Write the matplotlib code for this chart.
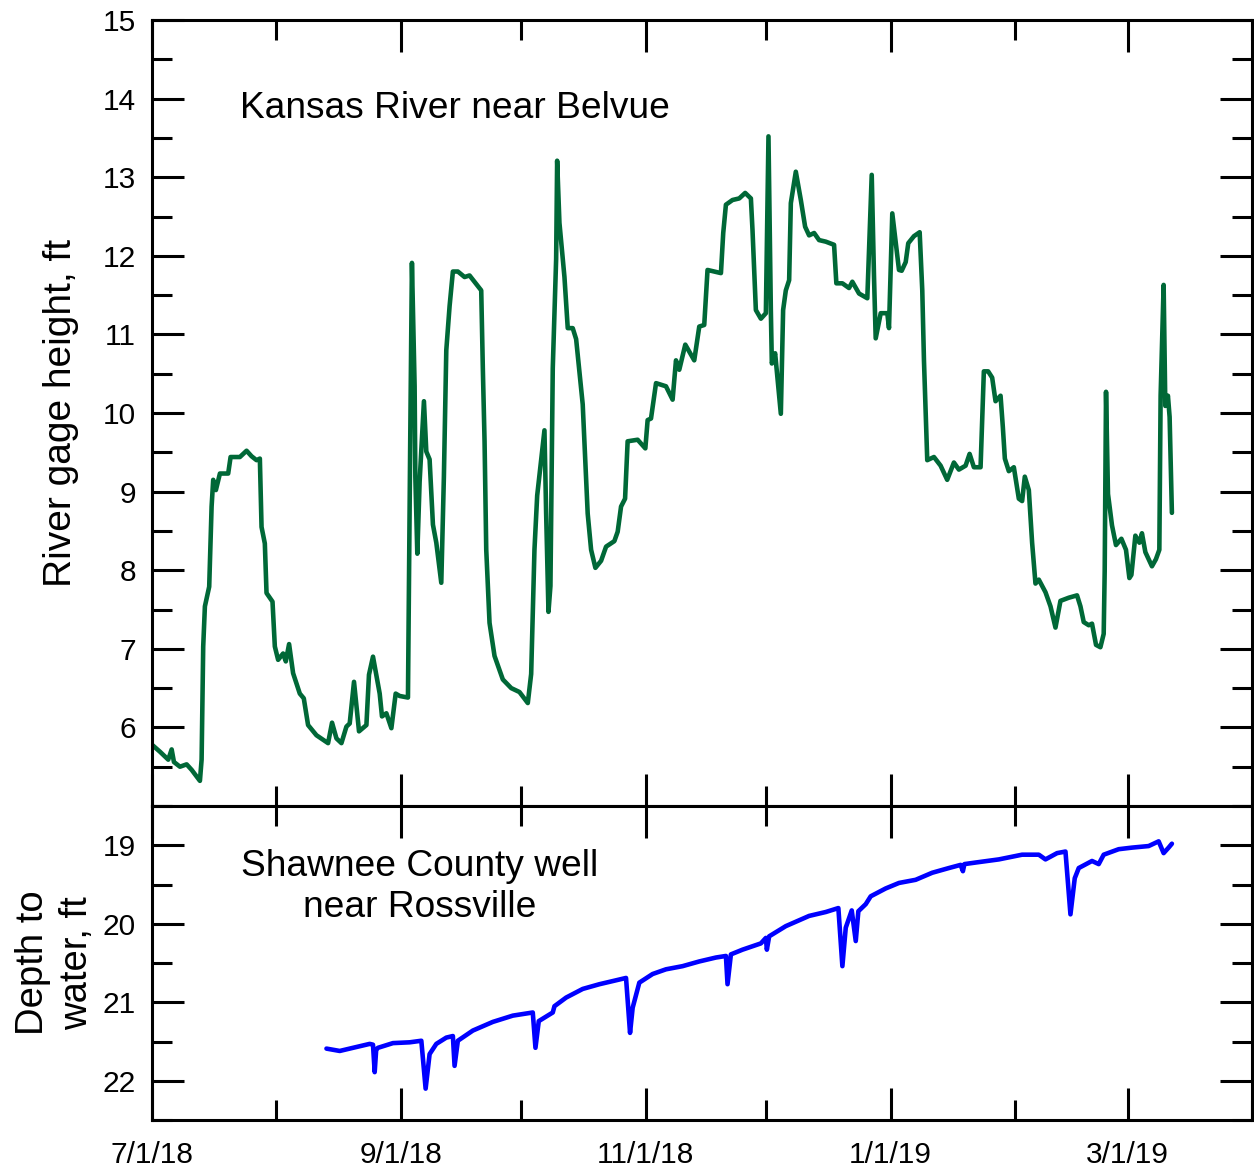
import matplotlib
matplotlib.use("Agg")
import matplotlib.pyplot as plt
import matplotlib.dates as mdates
from matplotlib.ticker import MultipleLocator, FuncFormatter
import pandas as pd

plt.rcParams['font.family'] = ['Liberation Sans', 'DejaVu Sans']

# Kansas River near Belvue, gage height (ft); day = days after 7/1/18
river_day = [0, 2.0, 4.05, 4.9, 5.47, 6.97, 8.63, 9.88, 11.94, 12.36, 12.76, 13.18,
             14.25, 14.85, 15.25, 15.92, 16.92, 18.98, 19.58, 21.89, 23.56, 24.8,
             26.04, 26.87, 27.29, 28.11, 28.53, 30.02, 30.6, 31.42, 32.66, 33.33,
             34.15, 35.15, 36.82, 37.81, 38.88, 40.97, 43.86, 44.85, 45.95, 47.19,
             48.43, 49.25, 50.32, 51.57, 53.41, 54.05, 55.05, 56.72, 57.29, 58.38,
             59.63, 60.7, 61.69, 63.76, 64.3, 64.75, 65.42, 65.6, 66.09, 66.67,
             67.74, 68.33, 69.15, 69.98, 70.82, 72.06, 72.71, 73.31, 74.13, 74.95,
             76.19, 77.86, 79.1, 80.77, 82.01, 82.41, 82.84, 83.26, 84.08, 85.32,
             87.39, 89.48, 91.54, 93.61, 94.45, 95.27, 95.95, 96.94, 97.76, 98.18,
             98.76, 99.25, 99.83, 100.67, 100.92, 101.49, 102.74, 103.56, 104.8,
             105.65, 107.29, 108.53, 109.38, 110.45, 111.87, 113.11, 115.17, 116.0,
             116.84, 117.84, 118.48, 120.97, 122.89, 123.46, 124.3, 125.55, 128.03,
             129.68, 130.52, 131.34, 132.84, 135.07, 136.32, 137.56, 138.38, 141.72,
             142.29, 142.96, 144.6, 146.27, 147.76, 149.18, 149.58, 150.42, 151.67,
             152.91, 153.56, 154.15, 154.4, 155.22, 156.64, 157.21, 157.88, 158.71,
             159.13, 160.37, 161.62, 162.69, 163.68, 164.93, 166.17, 167.84, 169.9,
             170.47, 171.97, 173.63, 174.45, 176.12, 178.18, 179.28, 179.85, 180.27,
             181.52, 183.16, 183.58, 184.4, 186.07, 186.74, 187.74, 188.38, 189.8,
             191.22, 191.87, 192.29, 193.11, 194.78, 196.44, 198.08, 199.75, 200.99,
             202.66, 203.66, 204.73, 206.39, 207.21, 208.28, 209.28, 210.12, 211.37,
             211.94, 212.44, 213.43, 214.68, 215.92, 216.74, 217.41, 218.41, 219.23,
             220.07, 220.9, 222.56, 223.81, 225.05, 226.29, 228.36, 230.42, 231.27,
             232.09, 233.33, 234.15, 235.15, 236.24, 237.06, 237.31, 237.64, 238.13,
             239.13, 240.12, 241.47, 242.61, 243.46, 243.96, 244.95, 245.95, 246.59,
             247.44, 249.08, 250.07, 250.92, 251.24, 251.99, 252.41, 253.06, 253.48,
             254.05]
river_ft = [5.78, 5.69, 5.59, 5.72, 5.56, 5.5, 5.53, 5.46, 5.32, 5.59, 7.03, 7.54,
            7.79, 8.81, 9.15, 9.02, 9.23, 9.23, 9.44, 9.44, 9.52, 9.45,
            9.4, 9.42, 8.55, 8.34, 7.71, 7.6, 7.03, 6.86, 6.94, 6.84,
            7.06, 6.69, 6.43, 6.37, 6.03, 5.9, 5.8, 6.06, 5.86, 5.8,
            6.01, 6.05, 6.58, 5.95, 6.03, 6.67, 6.9, 6.43, 6.14, 6.18,
            5.99, 6.43, 6.4, 6.38, 9.51, 11.91, 10.34, 9.19, 8.21, 9.13,
            10.15, 9.51, 9.41, 8.58, 8.35, 7.84, 9.19, 10.8, 11.36, 11.8,
            11.8, 11.73, 11.75, 11.64, 11.56, 10.57, 9.64, 8.26, 7.33, 6.91,
            6.61, 6.5, 6.45, 6.31, 6.68, 8.26, 8.95, 9.41, 9.78, 8.72,
            7.47, 7.8, 10.57, 11.96, 13.21, 12.42, 11.73, 11.08, 11.08,
            10.94, 10.11, 8.72, 8.26, 8.03, 8.12, 8.3, 8.37, 8.49,
            8.81, 8.91, 9.64, 9.66, 9.55, 9.91, 9.93, 10.38, 10.34,
            10.17, 10.67, 10.55, 10.87, 10.67, 11.1, 11.12, 11.82, 11.78,
            12.29, 12.65, 12.71, 12.73, 12.8, 12.73, 12.33, 11.31, 11.2,
            11.27, 13.52, 11.31, 10.63, 10.76, 9.99, 11.31, 11.56, 11.69,
            12.67, 13.07, 12.71, 12.37, 12.26, 12.29, 12.2, 12.18, 12.14,
            11.65, 11.65, 11.59, 11.67, 11.52, 11.46, 13.03, 11.73, 10.95,
            11.27, 11.27, 11.08, 12.54, 11.82, 11.81, 11.92, 12.16, 12.25,
            12.3, 11.56, 10.67, 9.4, 9.44, 9.33, 9.15, 9.37, 9.28,
            9.33, 9.48, 9.31, 9.31, 10.53, 10.53, 10.45, 10.15, 10.22,
            9.82, 9.42, 9.26, 9.31, 8.91, 8.88, 9.19, 9.02, 8.35,
            7.83, 7.88, 7.72, 7.54, 7.27, 7.61, 7.65, 7.68, 7.54,
            7.34, 7.3, 7.32, 7.05, 7.02, 7.19, 7.99, 10.27, 8.97,
            8.57, 8.32, 8.4, 8.26, 7.9, 7.94, 8.44, 8.35, 8.47,
            8.23, 8.05, 8.14, 8.26, 10.22, 11.63, 10.09, 10.22, 9.95,
            8.73]

# Shawnee County well near Rossville, depth to water (ft)
well_day = [43.46, 46.77, 50.07, 54.23, 55.05, 55.47, 55.85, 56.29, 60.02, 64.18,
            67.09, 68.16, 69.15, 70.82, 73.31, 74.95, 75.37, 76.19, 79.93, 84.9,
            89.88, 94.85, 95.52, 96.34, 99.83, 100.25, 103.16, 107.29, 111.44,
            115.6, 118.08, 119.08, 119.73, 121.39, 124.7, 128.03, 132.16, 136.32,
            140.47, 142.96, 143.36, 144.2, 147.09, 151.67, 152.91, 153.16, 153.73,
            157.88, 163.68, 167.84, 170.97, 171.97, 172.81, 174.3, 175.3, 175.95,
            177.79, 179.03, 182.76, 186.07, 190.22, 194.35, 198.51, 201.42, 201.99,
            202.36, 205.15, 210.95, 216.74, 220.9, 222.56, 225.45, 227.54, 228.78,
            229.85, 230.85, 234.15, 235.82, 237.06, 240.8, 244.1, 248.26, 250.75,
            251.99, 253.23, 254.05]
well_ft = [21.59, 21.62, 21.58, 21.53, 21.54, 21.89, 21.6, 21.58, 21.52, 21.51,
           21.49, 22.1, 21.66, 21.53, 21.45, 21.43, 21.81, 21.49, 21.36, 21.25,
           21.17, 21.13, 21.58, 21.24, 21.13, 21.05, 20.94, 20.83, 20.77,
           20.72, 20.69, 21.39, 21.07, 20.75, 20.64, 20.58, 20.54, 20.48,
           20.43, 20.41, 20.77, 20.39, 20.33, 20.25, 20.18, 20.33, 20.16,
           20.03, 19.9, 19.85, 19.8, 20.54, 20.05, 19.83, 20.22, 19.84,
           19.75, 19.65, 19.55, 19.48, 19.44, 19.35, 19.29, 19.25, 19.33,
           19.24, 19.22, 19.18, 19.12, 19.12, 19.18, 19.1, 19.08, 19.88,
           19.42, 19.29, 19.2, 19.24, 19.12, 19.05, 19.03, 19.01, 18.95,
           19.1, 19.03, 18.98]

start = pd.Timestamp("2018-07-01")
river_dates = start + pd.to_timedelta(river_day, unit="D")
well_dates = start + pd.to_timedelta(well_day, unit="D")


def date_label(x, pos):
    d = mdates.num2date(x)
    return "%d/%d/%02d" % (d.month, d.day, d.year % 100)


def style_axis(ax):
    for s in ax.spines.values():
        s.set_linewidth(2.2)
    ax.tick_params(which="both", direction="in", top=True, right=True,
                   width=2.2, labelsize=21.5)
    ax.tick_params(axis="y", pad=11.5)
    ax.tick_params(axis="x", pad=15)
    ax.tick_params(which="major", length=23)
    ax.tick_params(which="minor", length=14.5)
    ax.xaxis.set_major_locator(mdates.MonthLocator(bymonth=(1, 3, 5, 7, 9, 11)))
    ax.xaxis.set_minor_locator(mdates.MonthLocator())
    ax.xaxis.set_major_formatter(FuncFormatter(date_label))
    ax.set_xlim(pd.Timestamp("2018-07-01"), pd.Timestamp("2019-04-01"))


fig = plt.figure(figsize=(12.54, 11.70), dpi=100)
ax1 = fig.add_axes([0.1212, 0.3111, 0.8772, 0.6718])
ax2 = fig.add_axes([0.1212, 0.0427, 0.8772, 0.2684])

ax1.plot(river_dates, river_ft, color="#006837", lw=3.3,
         solid_joinstyle="round", solid_capstyle="round")
style_axis(ax1)
ax1.set_ylim(5, 15)
ax1.set_yticks(range(6, 16))
ax1.yaxis.set_minor_locator(MultipleLocator(0.5))
ax1.tick_params(axis="x", labelbottom=False)
ax1.text(0.08, 0.888, "Kansas River near Belvue", transform=ax1.transAxes,
         fontsize=26.7, ha="left", va="center")
ax1.text(-0.083, 0.5, "River gage height, ft", transform=ax1.transAxes,
         fontsize=28, rotation=90, ha="center", va="center")

ax2.plot(well_dates, well_ft, color="#0000ff", lw=3.3,
         solid_joinstyle="round", solid_capstyle="round")
style_axis(ax2)
ax2.set_ylim(22.5, 18.5)
ax2.set_yticks([19, 20, 21, 22])
ax2.yaxis.set_minor_locator(MultipleLocator(0.5))
ax2.text(0.2436, 0.742, "Shawnee County well\nnear Rossville", transform=ax2.transAxes,
         fontsize=26.7, ha="center", va="center", multialignment="center")
ax2.text(-0.088, 0.5, "Depth to\nwater, ft", transform=ax2.transAxes,
         fontsize=27.5, rotation=90, ha="center", va="center",
         multialignment="center", linespacing=1.3)

fig.savefig("out.png", dpi=100)
